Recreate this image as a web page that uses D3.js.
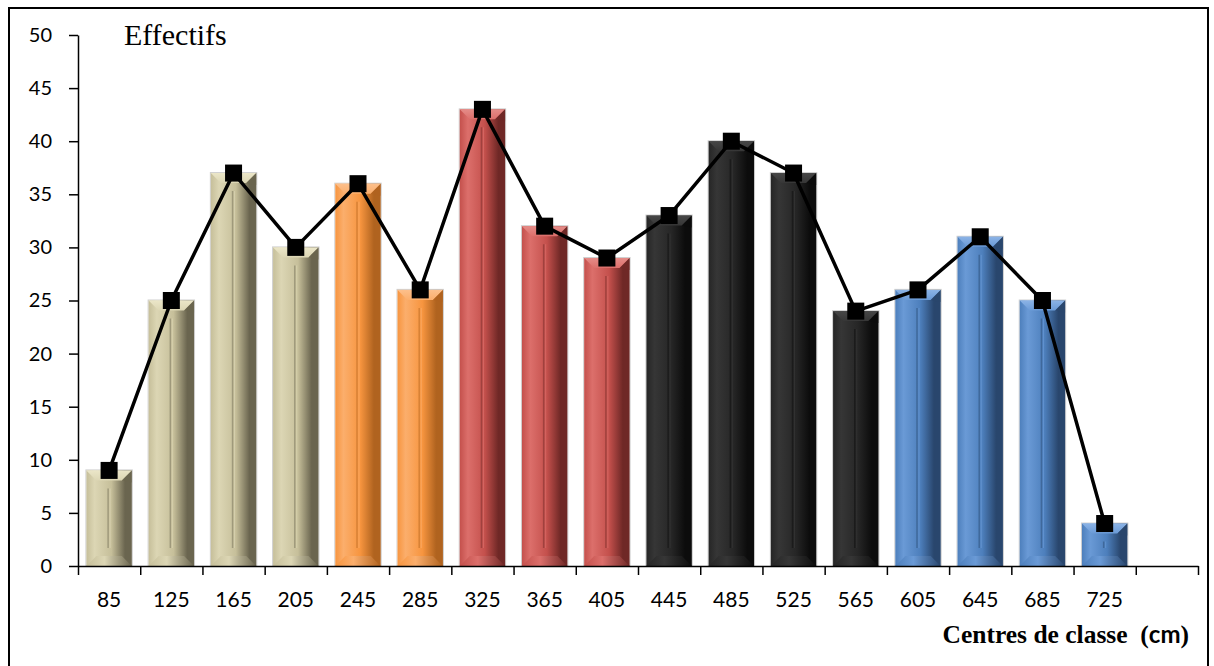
<!DOCTYPE html>
<html>
<head>
<meta charset="utf-8">
<script src="https://cdn.jsdelivr.net/npm/d3@7"></script>
<style>
  html, body { margin: 0; padding: 0; background: #fff; }
  svg { display: block; }
</style>
</head>
<body>
<svg id="chart" width="1214" height="666"></svg>
<script>
// Class centres (cm) and counts per class
const categories = ["85","125","165","205","245","285","325","365","405","445","485","525","565","605","645","685","725"];
const counts = [9, 25, 37, 30, 36, 26, 43, 32, 29, 33, 40, 37, 24, 26, 31, 25, 4];
const groups = ["sand","sand","sand","sand","orange","orange","red","red","red","black","black","black","black","blue","blue","blue","blue"];
const yTicks = [0, 5, 10, 15, 20, 25, 30, 35, 40, 45, 50];

// Shading for each colour group: face, highlight, shadow, top facet
const palette = {
  sand:   { base: "#c6bf9a", light: "#dcd6b4", dark: "#6a654f", top: "#ebe6c8", bottom: "#a8a283" },
  orange: { base: "#f7953f", light: "#fbae6c", dark: "#b0631f", top: "#fdc08c", bottom: "#d77d30" },
  red:    { base: "#c4504c", light: "#dc6f6b", dark: "#6f2826", top: "#e58c88", bottom: "#a5403d" },
  black:  { base: "#262626", light: "#363636", dark: "#0c0c0c", top: "#474747", bottom: "#2e2e2e" },
  blue:   { base: "#4d7fbc", light: "#6a9ad6", dark: "#29466d", top: "#8bb3e6", bottom: "#40699c" }
};

const svg = d3.select("#chart");
const defs = svg.append("defs");

// Outer frame
svg.append("rect")
  .attr("x", 9).attr("y", 8).attr("width", 1199).attr("height", 670)
  .attr("fill", "none").attr("stroke", "#000").attr("stroke-width", 2);

const plotL = 78, plotR = 1198, plotT = 35, plotB = 566;

const x = d3.scaleBand()
  .domain(categories.concat([" "]))
  .range([plotL, plotR])
  .paddingInner(0.27).paddingOuter(0.135);

const xEdges = d3.scaleLinear().domain([0, categories.length + 1]).range([plotL, plotR]);

const y = d3.scaleLinear().domain([0, 50]).range([plotB, plotT]);

// Gradients per group
Object.entries(palette).forEach(([k, c]) => {
  const g = defs.append("linearGradient").attr("id", "face-" + k)
    .attr("x1", "0").attr("x2", "1").attr("y1", "0").attr("y2", "0");
  g.append("stop").attr("offset", "0").attr("stop-color", c.base);
  g.append("stop").attr("offset", "0.18").attr("stop-color", c.light);
  g.append("stop").attr("offset", "0.55").attr("stop-color", c.base);
  g.append("stop").attr("offset", "0.85").attr("stop-color", c.dark);
  g.append("stop").attr("offset", "1").attr("stop-color", c.dark);

  const t = defs.append("linearGradient").attr("id", "top-" + k)
    .attr("x1", "0").attr("x2", "0").attr("y1", "0").attr("y2", "1");
  t.append("stop").attr("offset", "0").attr("stop-color", c.top);
  t.append("stop").attr("offset", "1").attr("stop-color", c.light);

  const b = defs.append("linearGradient").attr("id", "bot-" + k)
    .attr("x1", "0").attr("x2", "1").attr("y1", "0").attr("y2", "0");
  b.append("stop").attr("offset", "0").attr("stop-color", c.base);
  b.append("stop").attr("offset", "0.4").attr("stop-color", c.light);
  b.append("stop").attr("offset", "1").attr("stop-color", c.dark);
});

const bars = svg.append("g").attr("class", "bars");
const data = categories.map((c, i) => ({ c, v: counts[i], g: groups[i] }));

data.forEach(d => {
  const bx = x(d.c), bw = x.bandwidth();
  const by = y(d.v), bh = y(0) - y(d.v);
  const bev = Math.min(10, bh / 3);
  const c = palette[d.g];
  const g = bars.append("g");

  // soft halo
  g.append("rect").attr("x", bx - 0.5).attr("y", by - 0.5)
    .attr("width", bw + 1).attr("height", bh + 0.5)
    .attr("fill", "none").attr("stroke", "#cfcfcf").attr("stroke-width", 1);

  g.append("rect").attr("x", bx).attr("y", by).attr("width", bw).attr("height", bh)
    .attr("fill", `url(#face-${d.g})`);

  // top bevel
  g.append("path")
    .attr("d", `M${bx},${by}L${bx + bw},${by}L${bx + bw - bev},${by + bev}L${bx + bev},${by + bev}Z`)
    .attr("fill", `url(#top-${d.g})`);
  // top right facet, darker
  g.append("path")
    .attr("d", `M${bx + bw},${by}L${bx + bw},${by + bev * 1.2}L${bx + bw - bev},${by + bev}Z`)
    .attr("fill", c.dark).attr("opacity", 0.6);

  // bottom bevel
  g.append("path")
    .attr("d", `M${bx + bev},${by + bh - bev}L${bx + bw - bev},${by + bh - bev}L${bx + bw},${by + bh}L${bx},${by + bh}Z`)
    .attr("fill", `url(#bot-${d.g})`);

  // centre groove
  const gx = bx + bw / 2;
  const g1 = by + bev + 8, g2 = by + bh - bev - 8;
  if (g2 > g1) {
    g.append("line").attr("x1", gx - 1).attr("x2", gx - 1).attr("y1", g1).attr("y2", g2)
      .attr("stroke", c.dark).attr("stroke-opacity", 0.45).attr("stroke-width", 1.5);
    g.append("line").attr("x1", gx + 1).attr("x2", gx + 1).attr("y1", g1).attr("y2", g2)
      .attr("stroke", c.light).attr("stroke-opacity", 0.7).attr("stroke-width", 1);
  } else {
    g.append("rect").attr("x", gx - 1.5).attr("y", by + bh / 2 - 1.5).attr("width", 3).attr("height", 3)
      .attr("fill", c.dark).attr("opacity", 0.5);
  }
});

// Y axis
const yAxis = svg.append("g").attr("transform", `translate(${plotL},0)`)
  .call(d3.axisLeft(y).tickValues(yTicks).tickSize(9).tickSizeOuter(0).tickPadding(17));
yAxis.select(".domain").attr("stroke", "#000").attr("stroke-width", 1.5);
yAxis.selectAll(".tick line").attr("stroke", "#000").attr("stroke-width", 1.5);
yAxis.selectAll(".tick text")
  .attr("font-family", "Lato, 'Open Sans', sans-serif").attr("font-size", 20).attr("fill", "#000");

// X axis: ticks at class boundaries
const xAxis = svg.append("g").attr("transform", `translate(0,${plotB})`)
  .call(d3.axisBottom(xEdges).ticks(categories.length + 1).tickFormat("").tickSize(9).tickSizeOuter(0));
xAxis.select(".domain").attr("stroke", "#000").attr("stroke-width", 1.5);
xAxis.selectAll(".tick line").attr("stroke", "#000").attr("stroke-width", 1.5);

svg.append("g").selectAll("text").data(categories).join("text")
  .attr("x", d => x(d) + x.bandwidth() / 2)
  .attr("y", 607)
  .attr("text-anchor", "middle")
  .attr("font-family", "Lato, 'Open Sans', sans-serif")
  .attr("font-size", 21)
  .text(d => d);

// Line with square markers
const line = d3.line()
  .x(d => x(d.c) + x.bandwidth() / 2)
  .y(d => y(d.v));

svg.append("path").datum(data)
  .attr("d", line).attr("fill", "none")
  .attr("stroke", "#000").attr("stroke-width", 3.5).attr("stroke-linejoin", "round");

const ms = 17;
svg.append("g").selectAll("rect").data(data).join("rect")
  .attr("x", d => x(d.c) + x.bandwidth() / 2 - ms / 2)
  .attr("y", d => y(d.v) - ms / 2)
  .attr("width", ms).attr("height", ms)
  .attr("fill", "#000");

// Titles
svg.append("text")
  .attr("x", 124).attr("y", 45)
  .attr("font-family", "'Liberation Serif', 'Times New Roman', serif")
  .attr("font-size", 30)
  .text("Effectifs");

const xt = svg.append("text")
  .attr("x", 1189).attr("y", 643)
  .attr("text-anchor", "end")
  .attr("font-family", "'Liberation Serif', 'Times New Roman', serif")
  .attr("font-weight", "bold")
  .attr("font-size", 25.5);
xt.append("tspan").text("Centres de classe\u00a0\u00a0(");
xt.append("tspan").attr("font-family", "Lato, 'Open Sans', sans-serif").attr("font-size", 24).text("cm");
xt.append("tspan").text(")");
</script>
</body>
</html>
